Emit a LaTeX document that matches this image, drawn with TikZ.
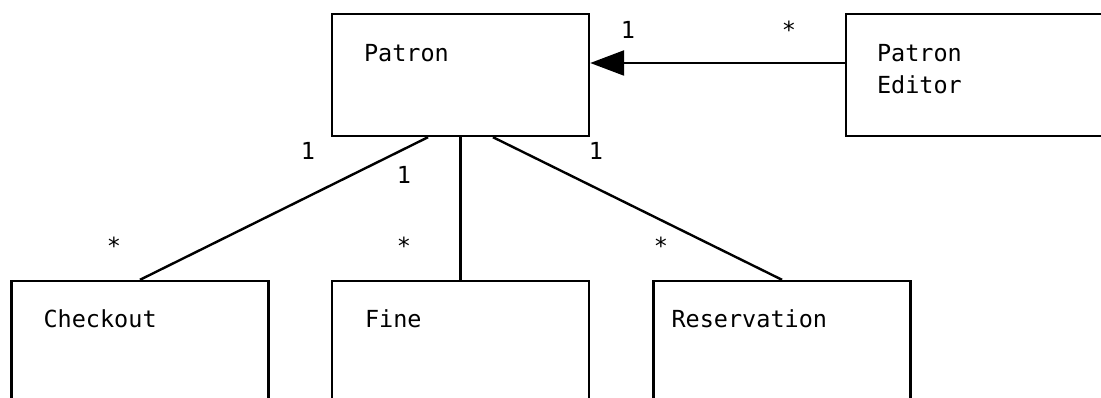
\documentclass[tikz,border=0pt]{standalone}
\usepackage{fontspec}
\setmonofont{DejaVu Sans Mono}
\usetikzlibrary{arrows.meta,positioning}

\begin{document}
\begin{tikzpicture}[x=1pt,y=-1pt,node distance=2cm,on grid,
    every node/.style={font=\ttfamily\fontsize{23.5}{32}\selectfont},
    cls/.style={draw,line width=2.4pt,minimum width=257pt,minimum height=122pt,inner sep=0pt},
    clsname/.style={anchor=base west,inner sep=0pt,align=left},
    mult/.style={anchor=base,inner sep=0pt}]
  \clip (0,0) rectangle (1101,398);
  % classes
  \node[cls] (patron) at (460.5,75) {};
  \node[cls] [right=514pt of patron] (editor) {};
  \node[cls] [below left=267pt and 320.5pt of patron] (checkout) {};
  \node[cls] [below=267pt of patron] (fine) {};
  \node[cls] [below right=267pt and 321.5pt of patron] (reservation) {};
  \node[clsname] (patron_t) at ([xshift=33pt,yshift=-49pt]patron.north west) {Patron};
  \node[clsname] (editor_t) at ([xshift=32pt,yshift=-81pt]editor.north west) {Patron\\Editor};
  \node[clsname] (checkout_t) at ([xshift=33pt,yshift=-48pt]checkout.north west) {Checkout};
  \node[clsname] (fine_t) at ([xshift=34pt,yshift=-48pt]fine.north west) {Fine};
  \node[clsname] (reservation_t) at ([xshift=19pt,yshift=-48pt]reservation.north west) {Reservation};
  % associations
  \draw[line width=2.4pt] ([xshift=-32.5pt]patron.south) -- (checkout.north);
  \draw[line width=2.4pt] (patron.south) -- (fine.north);
  \draw[line width=2.4pt] ([xshift=32.5pt]patron.south) -- (reservation.north);
  \draw[line width=2.4pt,-{Triangle[length=34pt,width=25pt]}] ([yshift=12pt]editor.west) -- ([yshift=12pt]patron.east);
  % multiplicities
  \node[mult] (m_pe1) at (628,39) {1};
  \node[mult] (m_pe2) at (789,39) {*};
  \node[mult] (m_pc1) at (308,160) {1};
  \node[mult] (m_pf1) at (404,184) {1};
  \node[mult] (m_pr1) at (596,160) {1};
  \node[mult] (m_pc2) at (114,255) {*};
  \node[mult] (m_pf2) at (404,255) {*};
  \node[mult] (m_pr2) at (661,255) {*};
\end{tikzpicture}
\end{document}
